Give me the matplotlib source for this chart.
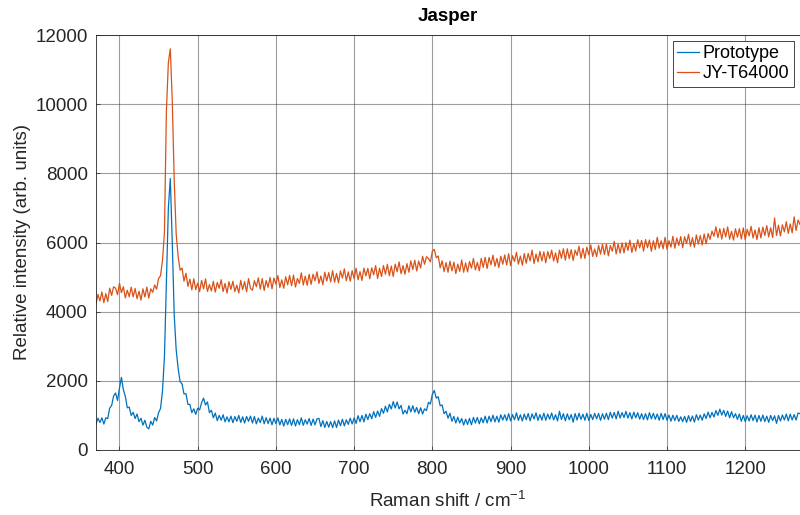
"""
Jasper Raman spectrum: prototype vs JY-T64000.
Values read off the reference picture every 2.5 cm^-1.
"""

import matplotlib
matplotlib.use("Agg")
import matplotlib.pyplot as plt
import numpy as np

# --- data ---------------------------------------------------------------------
raman_shift = np.linspace(370, 1270, 361)  # cm^-1, 2.5 step

prototype = [
    750, 920, 795, 930, 750, 930, 910, 1210, 1290, 1560,
    1650, 1430, 1790, 2100, 1740, 1550, 1220, 1240, 1000, 1090,
    910, 1040, 820, 920, 720, 860, 660, 610, 830, 720,
    940, 840, 1080, 1200, 1710, 2700, 4800, 7000, 7850, 6000,
    3900, 2900, 2360, 1980, 1910, 1620, 1630, 1320, 1320, 1080,
    1190, 1030, 1210, 1160, 1370, 1500, 1300, 1390, 1080, 1150,
    930, 1070, 850, 1000, 860, 1020, 815, 960, 815, 980,
    790, 970, 830, 1000, 800, 960, 780, 970, 830, 980,
    780, 968, 756, 924, 792, 980, 758, 936, 764, 922,
    730, 917, 763, 930, 727, 883, 690, 887, 733, 900,
    710, 902, 694, 877, 729, 931, 713, 876, 748, 910,
    710, 893, 727, 900, 913, 677, 850, 653, 827, 660,
    820, 647, 843, 650, 867, 703, 890, 697, 873, 740,
    920, 753, 927, 770, 993, 817, 1000, 813, 1037, 880,
    1050, 904, 1109, 943, 1128, 972, 1197, 1061, 1266, 1100,
    1320, 1185, 1400, 1215, 1390, 1190, 1290, 1040, 1150, 1050,
    1280, 1100, 1280, 1090, 1230, 1050, 1220, 1040, 1190, 1140,
    1380, 1330, 1610, 1720, 1500, 1540, 1280, 1300, 1050, 1120,
    920, 1060, 830, 970, 780, 950, 780, 910, 720, 890,
    740, 914, 729, 943, 778, 942, 757, 931, 786, 980,
    780, 976, 821, 1007, 812, 978, 803, 1019, 864, 1020,
    850, 1051, 842, 1023, 874, 1075, 856, 1017, 839, 1040,
    875, 1055, 845, 1045, 895, 1075, 855, 1025, 865, 1065,
    860, 1040, 890, 1070, 870, 1020, 840, 1120, 880, 1050,
    845, 1045, 875, 1025, 805, 1055, 865, 1065, 885, 1035,
    860, 1062, 854, 1028, 880, 1060, 903, 1055, 857, 1050,
    890, 1063, 877, 1090, 923, 1087, 900, 1123, 927, 1080,
    940, 1117, 923, 1080, 897, 1093, 930, 1077, 893, 1050,
    880, 1050, 870, 1080, 900, 1060, 890, 1040, 860, 1060,
    880, 1053, 857, 1010, 833, 1007, 850, 1003, 827, 960,
    820, 974, 799, 993, 828, 982, 807, 1021, 866, 1010,
    860, 1046, 911, 1097, 932, 1088, 953, 1139, 1004, 1180,
    1010, 1146, 971, 1127, 932, 1108, 933, 1049, 884, 1040,
    830, 1000, 820, 990, 840, 1020, 850, 1010, 810, 1000,
    830, 1010, 820, 980, 800, 1000, 850, 990, 770, 1000,
    840, 1013, 867, 1040, 843, 1037, 870, 1023, 867, 1070,
    1050,
]

jy_t64000 = [
    4210, 4500, 4310, 4570, 4260, 4520, 4290, 4680, 4470, 4720,
    4680, 4490, 4820, 4550, 4720, 4400, 4620, 4430, 4710, 4430,
    4670, 4375, 4590, 4335, 4660, 4425, 4710, 4395, 4660, 4560,
    4770, 4650, 4960, 5040, 5480, 6300, 9800, 11200, 11600, 10100,
    7800, 6250, 5600, 5200, 5260, 4880, 5110, 4730, 4940, 4630,
    4950, 4640, 4825, 4580, 4905, 4660, 4948, 4585, 4782, 4600,
    4875, 4565, 4845, 4675, 4925, 4585, 4815, 4535, 4865, 4645,
    4880, 4583, 4766, 4540, 4903, 4637, 4870, 4573, 4957, 4670,
    4620, 4896, 4721, 4977, 4652, 4958, 4613, 4899, 4704, 4990,
    4660, 4974, 4799, 5043, 4698, 4922, 4677, 5011, 4776, 5050,
    4750, 5057, 4713, 4960, 4817, 5123, 4770, 5027, 4763, 5080,
    4790, 5084, 4889, 5153, 4818, 5032, 4777, 5141, 4886, 5130,
    4860, 5186, 4851, 5107, 4832, 5178, 4973, 5239, 4894, 5150,
    4880, 5186, 4951, 5257, 4922, 5158, 4903, 5259, 5034, 5250,
    4950, 5268, 5066, 5333, 4961, 5259, 5017, 5334, 5082, 5370,
    5040, 5318, 5016, 5373, 5151, 5439, 5097, 5334, 5082, 5390,
    5140, 5469, 5218, 5487, 5176, 5464, 5263, 5602, 5371, 5590,
    5540, 5440, 5750, 5800, 5560, 5610, 5270, 5470, 5160, 5420,
    5140, 5460, 5180, 5430, 5100, 5375, 5165, 5495, 5140, 5410,
    5150, 5449, 5258, 5537, 5206, 5424, 5183, 5542, 5281, 5570,
    5250, 5568, 5356, 5633, 5311, 5539, 5277, 5604, 5372, 5640,
    5350, 5676, 5331, 5617, 5452, 5718, 5373, 5609, 5344, 5680,
    5400, 5683, 5467, 5780, 5393, 5667, 5440, 5743, 5467, 5730,
    5415, 5740, 5535, 5780, 5465, 5700, 5415, 5780, 5545, 5820,
    5490, 5818, 5536, 5793, 5481, 5779, 5627, 5894, 5542, 5830,
    5540, 5867, 5643, 5930, 5597, 5813, 5590, 5917, 5663, 5950,
    5650, 5957, 5613, 5910, 5747, 6033, 5670, 5957, 5693, 5990,
    5700, 5996, 5771, 6067, 5712, 5968, 5753, 6079, 5844, 6060,
    5750, 6084, 5849, 6073, 5748, 6052, 5797, 6151, 5836, 6050,
    5815, 6150, 5805, 6050, 5865, 6180, 5835, 6130, 5915, 6170,
    5850, 6166, 5971, 6237, 5892, 6138, 5863, 6219, 5954, 6200,
    5930, 6245, 5960, 6260, 6090, 6330, 6180, 6455, 6140, 6400,
    6100, 6407, 6163, 6450, 6097, 6323, 6070, 6397, 6153, 6400,
    6100, 6423, 6077, 6380, 6193, 6467, 6130, 6363, 6087, 6430,
    6130, 6446, 6201, 6487, 6162, 6428, 6143, 6709, 6204, 6500,
    6190, 6513, 6307, 6600, 6263, 6537, 6280, 6743, 6347, 6650,
    6520,
]

x_ticks = [400, 500, 600, 700, 800, 900, 1000, 1100, 1200]
y_ticks = [0, 2000, 4000, 6000, 8000, 10000, 12000]

# --- style (MATLAB-ish) -------------------------------------------------------
COLOR_PROTO = "#0072BD"
COLOR_JY = "#D95319"
TXT = "#262626"

plt.rcParams["font.family"] = ["Liberation Sans", "DejaVu Sans"]
plt.rcParams["mathtext.fontset"] = "custom"
plt.rcParams["mathtext.rm"] = "Liberation Sans"

fig = plt.figure(figsize=(8, 5.15), dpi=100)
ax = fig.add_axes([96 / 800, 65 / 515, 704 / 800, 415 / 515])

ax.plot(raman_shift, prototype, color=COLOR_PROTO, lw=0.9, label="Prototype")
ax.plot(raman_shift, jy_t64000, color=COLOR_JY, lw=0.9, label="JY-T64000")

ax.set_xlim(370, 1270)
ax.set_ylim(0, 12000)
ax.set_xticks(x_ticks)
ax.set_yticks(y_ticks)
ax.tick_params(direction="in", length=3, width=0.5, colors=TXT, labelsize=13.5)
ax.tick_params(axis="x", pad=8)
ax.tick_params(axis="y", pad=6)
ax.grid(True, color="#262626", alpha=0.45, lw=0.8)
ax.set_axisbelow(True)
for sp in ax.spines.values():
    sp.set_color(TXT)
    sp.set_linewidth(0.6)

ax.set_title("Jasper", fontsize=13.5, fontweight="bold", color="black", pad=10)
ax.set_xlabel("Raman shift / cm$^{-1}$", fontsize=13.5, color=TXT, labelpad=9)
ax.set_ylabel("Relative intensity (arb. units)", fontsize=13.5, color=TXT, labelpad=3)

leg = ax.legend(
    loc="upper right",
    bbox_to_anchor=(0.991, 0.986),
    borderaxespad=0,
    fontsize=13,
    handlelength=1.2,
    handletextpad=0.2,
    borderpad=0.25,
    labelspacing=0.15,
    fancybox=False,
    framealpha=1,
    edgecolor=TXT,
)
leg.get_frame().set_linewidth(0.6)

fig.savefig("out.png", dpi=100)
